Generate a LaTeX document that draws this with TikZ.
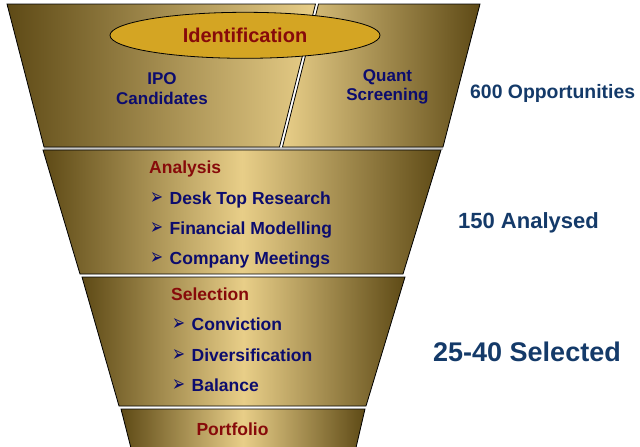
\documentclass[tikz,border=0pt]{standalone}
\usepackage{fontspec}
\setmainfont{Liberation Sans}
\newfontfamily\symfont{DejaVu Sans}
\usetikzlibrary{shapes.geometric}

\definecolor{funneldark}{RGB}{94,74,22}
\definecolor{funnellight}{RGB}{232,206,136}
\definecolor{ovalgold}{RGB}{212,165,35}
\definecolor{headred}{RGB}{135,10,10}
\definecolor{itemblue}{RGB}{12,12,110}
\definecolor{countblue}{RGB}{20,58,105}

% arrow bullet in front of a list entry
\newcommand\bul{\makebox[19.5pt][l]{\symfont\fontsize{15.5}{15.5}\selectfont\scalebox{1}[1.45]{➢}}}

\begin{document}
\begin{tikzpicture}[x=1pt,y=-1pt]
	\tikzstyle{every node}=[inner sep=0pt,font=\bfseries]
	\tikzstyle{band}=[draw=black,line width=0.8pt]
	\tikzstyle{fade}=[band,left color=funneldark,right color=funneldark,middle color=funnellight]
	\tikzstyle{head}=[text=headred,font=\bfseries\fontsize{17.5}{20}\selectfont,anchor=base west]
	\tikzstyle{item}=[text=itemblue,font=\bfseries\fontsize{17.5}{20}\selectfont,anchor=base west]
	\tikzstyle{source}=[text=itemblue,font=\bfseries\fontsize{17}{19.5}\selectfont,align=center,anchor=base]
	\useasboundingbox (0,0) rectangle (640,447);
	\clip (0,0) rectangle (640,447);

	% top band, split in two
	\fill[gray!45] (44,147) rectangle (443,150);
	\draw[band,left color=funneldark,right color=funnellight] (7,4) -- (315.5,4) -- (279.5,147) -- (44,147) -- cycle;
	\draw[band,left color=funnellight,right color=funneldark] (318.5,4) -- (480,4) -- (443,147) -- (282.5,147) -- cycle;
	\node[ellipse,draw=black,line width=0.8pt,fill=ovalgold,minimum width=270,minimum height=46,
		text=headred,font=\bfseries\fontsize{20}{22}\selectfont] (ident) at (245,35.3) {Identification};
	% base anchor sits on the last line
	\node[source] (ipo) at (162,104) {IPO\\Candidates};
	\node[source] (quant) at (387.5,100.5) {Quant\\Screening};

	% lower bands
	\draw[fade] (43,150) -- (441,150) -- (403,274) -- (80,274) -- cycle;
	\draw[fade] (82,277) -- (405,277) -- (366,406) -- (119,406) -- cycle;
	\draw[fade] (121,409) -- (365,409) -- (355,452) -- (132,452) -- cycle;

	\node[head] (analysis) at (149,173.3) {Analysis};
	\node[item] (desk) at (150,204) {\bul Desk Top Research};
	\node[item] (model) at (150,234.3) {\bul Financial Modelling};
	\node[item] (meet) at (150,264.3) {\bul Company Meetings};

	\node[head] (select) at (171,300) {Selection};
	\node[item] (conv) at (172,330) {\bul Conviction};
	\node[item] (divers) at (172,361) {\bul Diversification};
	\node[item] (bal) at (172,391.7) {\bul Balance};

	\node[head,anchor=base] (port) at (232.5,435) {Portfolio};

	% counts on the right
	\node[anchor=base west,text=countblue,font=\bfseries\fontsize{19.4}{22}\selectfont] (opps) at (470,98.5) {600 Opportunities};
	\node[anchor=base west,text=countblue,font=\bfseries\fontsize{22}{24}\selectfont] (analysed) at (458,228.3) {150 Analysed};
	\node[anchor=base west,text=countblue,font=\bfseries\fontsize{27}{30}\selectfont] (selected) at (433,361.7) {25-40 Selected};
\end{tikzpicture}
\end{document}
